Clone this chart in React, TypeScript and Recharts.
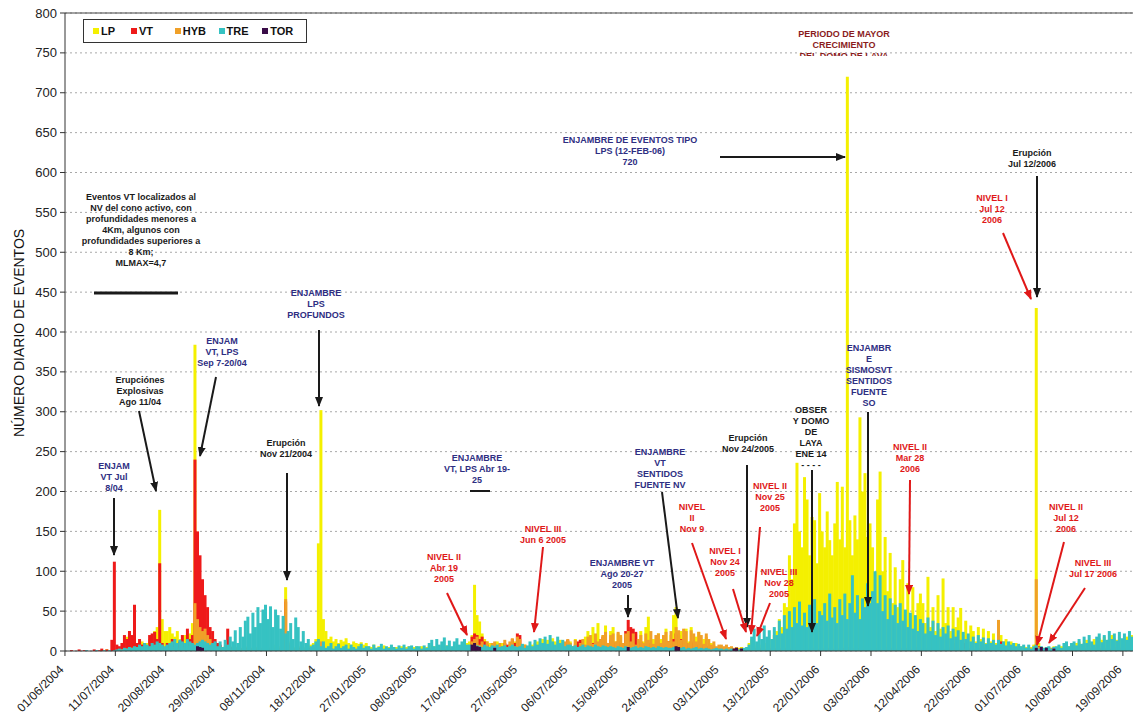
import { BarChart, Bar, XAxis, YAxis, CartesianGrid, ReferenceLine } from 'recharts';

// two-day bins starting 01/06/2004, one row per 40-day tick interval
const lpCounts = [
  0, 0, 0, 0, 0, 0, 0, 0, 0, 0, 0, 0, 0, 0, 1, 0, 2, 0, 0, 3,
  2, 3, 5, 12, 18, 22, 15, 8, 6, 10, 12, 8, 10, 15, 20, 25, 30, 177, 40, 25,
  25, 30, 22, 18, 25, 15, 12, 20, 18, 22, 35, 384, 60, 45, 35, 25, 20, 15, 12, 10,
  8, 6, 5, 6, 4, 5, 6, 4, 5, 3, 4, 5, 6, 4, 3, 5, 4, 3, 4, 5,
  5, 4, 6, 8, 5, 6, 10, 80, 12, 6, 5, 4, 5, 6, 5, 4, 6, 8, 10, 15,
  135, 302, 40, 25, 15, 18, 12, 15, 10, 14, 12, 16, 10, 8, 12, 10, 9, 11, 8, 10,
  6, 5, 8, 4, 6, 5, 7, 4, 5, 6, 4, 5, 3, 6, 4, 5, 6, 4, 5, 6,
  5, 6, 4, 5, 7, 4, 6, 5, 4, 6, 5, 7, 4, 5, 6, 5, 4, 6, 8, 10,
  12, 20, 83, 45, 37, 22, 15, 12, 10, 8, 10, 12, 8, 10, 8, 6, 8, 10, 12, 8,
  6, 5, 8, 6, 5, 8, 10, 12, 10, 15, 12, 14, 10, 16, 12, 10, 14, 12, 10, 12,
  12, 5, 15, 8, 14, 6, 18, 25, 10, 30, 12, 35, 14, 20, 32, 10, 25, 30, 12, 22,
  18, 8, 20, 12, 6, 15, 22, 8, 25, 12, 30, 43, 10, 15, 6, 22, 15, 8, 28, 12,
  20, 45, 55, 15, 25, 8, 28, 12, 30, 10, 18, 24, 8, 15, 18, 5, 10, 8, 4, 5,
  5, 4, 3, 4, 3, 2, 3, 4, 5, 3, 4, 10, 15, 8, 6, 5, 8, 6, 10, 8,
  15, 20, 25, 40, 30, 60, 55, 120, 90, 160, 236, 150, 130, 218, 190, 120, 168, 164, 110, 198,
  150, 130, 175, 139, 120, 160, 212, 140, 206, 130, 720, 164, 120, 170, 140, 293, 200, 223, 143, 160,
  130, 80, 190, 225, 100, 143, 75, 123, 60, 105, 55, 90, 114, 50, 85, 45, 80, 40, 60, 72,
  60, 35, 93, 30, 55, 25, 70, 28, 91, 35, 55, 25, 55, 30, 42, 54, 20, 38, 18, 32,
  25, 12, 30, 15, 28, 10, 25, 12, 22, 10, 30, 20, 12, 15, 8, 12, 6, 10, 5, 6,
  6, 5, 4, 5, 8, 430, 10, 5, 4, 3, 5, 4, 6, 5, 4, 6, 5, 4, 6, 8,
  8, 10, 12, 8, 10, 14, 12, 10, 15, 12, 16, 14, 18, 12, 15, 20, 16, 14, 18, 15,
  16, 18, 14, 20,
];

const vtCounts = [
  0, 0, 1, 0, 0, 2, 0, 1, 0, 0, 0, 2, 0, 1, 3, 0, 2, 0, 14, 112,
  8, 6, 10, 20, 15, 25, 20, 58, 10, 15, 8, 10, 5, 20, 22, 24, 15, 110, 10, 5,
  10, 8, 15, 5, 8, 12, 20, 10, 28, 15, 20, 240, 150, 120, 90, 70, 55, 30, 25, 15,
  10, 8, 5, 4, 28, 5, 3, 4, 2, 3, 2, 3, 4, 2, 3, 2, 3, 2, 4, 3,
  3, 2, 4, 3, 2, 3, 5, 62, 8, 3, 2, 3, 2, 4, 3, 2, 3, 4, 3, 5,
  8, 10, 5, 3, 2, 3, 2, 1, 2, 1, 2, 1, 2, 1, 1, 2, 1, 2, 1, 2,
  1, 2, 1, 1, 2, 1, 1, 1, 2, 1, 1, 2, 1, 1, 1, 2, 1, 1, 1, 2,
  1, 1, 2, 1, 1, 1, 2, 1, 1, 1, 2, 1, 1, 2, 1, 1, 2, 1, 2, 3,
  4, 18, 22, 20, 15, 18, 12, 8, 5, 6, 8, 4, 5, 6, 10, 8, 6, 15, 10, 22,
  20, 8, 5, 4, 3, 4, 3, 2, 3, 2, 3, 4, 2, 3, 2, 4, 3, 5, 8, 14,
  6, 5, 8, 12, 14, 5, 4, 6, 8, 10, 12, 8, 15, 18, 12, 10, 14, 8, 10, 12,
  10, 8, 25, 39, 30, 28, 24, 10, 12, 8, 6, 10, 8, 5, 6, 8, 10, 6, 8, 12,
  12, 15, 22, 20, 15, 12, 10, 8, 12, 10, 8, 6, 8, 5, 6, 4, 5, 3, 4, 3,
  3, 2, 3, 2, 2, 3, 2, 2, 3, 2, 2, 3, 2, 3, 2, 2, 3, 2, 2, 3,
  2, 3, 2, 2, 3, 2, 3, 2, 2, 3, 2, 3, 2, 2, 3, 2, 2, 3, 2, 2,
  3, 2, 2, 3, 2, 2, 3, 2, 2, 3, 2, 2, 3, 2, 2, 3, 2, 2, 3, 2,
  2, 2, 3, 2, 2, 3, 2, 2, 3, 2, 2, 3, 2, 2, 3, 2, 2, 3, 2, 2,
  2, 3, 2, 2, 3, 2, 2, 3, 2, 2, 3, 2, 2, 3, 2, 2, 10, 2, 2, 3,
  2, 2, 3, 2, 2, 3, 2, 2, 3, 2, 2, 12, 2, 2, 3, 2, 2, 3, 2, 2,
  2, 2, 3, 2, 3, 8, 6, 3, 2, 3, 2, 2, 3, 2, 2, 3, 2, 2, 3, 2,
  2, 3, 2, 2, 3, 2, 2, 3, 2, 2, 3, 2, 2, 3, 2, 2, 3, 2, 2, 3,
  2, 3, 2, 2,
];

const hybCounts = [
  0, 0, 0, 0, 0, 0, 0, 0, 0, 0, 0, 0, 0, 0, 0, 0, 0, 0, 0, 0,
  0, 1, 2, 1, 3, 2, 4, 3, 2, 5, 3, 4, 2, 3, 6, 5, 4, 8, 5, 3,
  3, 4, 2, 5, 3, 4, 3, 5, 4, 6, 8, 60, 40, 30, 25, 28, 20, 15, 10, 6,
  4, 3, 5, 4, 3, 2, 3, 4, 2, 3, 2, 3, 2, 4, 3, 2, 3, 2, 3, 4,
  3, 2, 3, 4, 2, 3, 20, 65, 10, 4, 3, 2, 3, 2, 3, 4, 3, 2, 3, 5,
  14, 12, 6, 3, 2, 3, 2, 3, 2, 2, 3, 2, 2, 3, 2, 2, 3, 2, 2, 3,
  2, 1, 2, 1, 3, 1, 2, 1, 2, 3, 1, 2, 1, 2, 1, 3, 2, 1, 2, 1,
  1, 2, 1, 2, 1, 3, 1, 2, 1, 2, 1, 2, 3, 1, 2, 1, 2, 1, 3, 4,
  3, 12, 15, 18, 8, 12, 5, 12, 4, 10, 12, 4, 10, 6, 14, 5, 12, 16, 6, 18,
  15, 6, 8, 3, 5, 2, 5, 2, 5, 2, 6, 3, 4, 6, 2, 6, 8, 4, 12, 15,
  10, 6, 14, 5, 10, 15, 8, 18, 20, 9, 22, 12, 15, 20, 24, 10, 20, 22, 12, 24,
  20, 10, 22, 25, 12, 22, 8, 15, 20, 10, 22, 14, 25, 9, 20, 22, 10, 20, 24, 12,
  25, 12, 30, 26, 14, 28, 25, 10, 26, 22, 12, 24, 20, 9, 22, 15, 8, 12, 6, 8,
  8, 6, 8, 5, 6, 4, 5, 3, 4, 3, 2, 3, 2, 3, 4, 3, 2, 3, 2, 3,
  3, 2, 4, 3, 2, 3, 4, 2, 3, 5, 3, 2, 4, 3, 2, 3, 4, 2, 3, 2,
  2, 3, 2, 4, 3, 2, 3, 2, 4, 3, 5, 3, 2, 3, 4, 2, 3, 2, 3, 2,
  3, 2, 4, 3, 2, 3, 5, 2, 3, 4, 2, 3, 2, 4, 3, 2, 3, 5, 2, 3,
  2, 3, 4, 2, 3, 2, 4, 3, 2, 3, 5, 2, 10, 3, 2, 4, 3, 2, 3, 2,
  3, 2, 4, 3, 2, 5, 3, 2, 4, 3, 39, 6, 3, 2, 4, 3, 2, 3, 2, 3,
  2, 3, 2, 3, 4, 90, 5, 3, 2, 3, 2, 4, 3, 2, 3, 2, 3, 2, 4, 3,
  3, 2, 4, 3, 2, 3, 4, 2, 3, 5, 3, 2, 4, 3, 2, 3, 5, 2, 3, 4,
  3, 2, 4, 3,
];

const treCounts = [
  0, 0, 0, 0, 0, 0, 0, 0, 1, 0, 0, 0, 1, 0, 0, 1, 0, 1, 0, 1,
  2, 3, 2, 4, 3, 5, 4, 6, 5, 8, 6, 10, 8, 6, 10, 8, 12, 10, 8, 6,
  8, 10, 12, 15, 10, 14, 12, 10, 15, 12, 10, 8, 10, 12, 14, 12, 10, 8, 10, 12,
  6, 12, 5, 14, 8, 18, 12, 26, 10, 30, 18, 38, 43, 22, 48, 30, 55, 35, 52, 58,
  40, 56, 30, 52, 45, 28, 44, 22, 25, 35, 15, 42, 30, 12, 25, 10, 15, 6, 8, 12,
  15, 6, 12, 4, 6, 10, 3, 6, 9, 4, 6, 8, 3, 8, 5, 3, 6, 9, 4, 6,
  6, 3, 8, 4, 5, 9, 3, 6, 4, 8, 5, 3, 7, 4, 8, 3, 6, 7, 3, 6,
  6, 3, 7, 4, 10, 14, 6, 15, 8, 12, 17, 7, 13, 6, 12, 16, 8, 12, 15, 8,
  8, 6, 5, 7, 6, 5, 8, 6, 5, 7, 6, 8, 5, 6, 7, 5, 6, 8, 6, 5,
  6, 9, 4, 7, 12, 6, 14, 8, 16, 10, 18, 9, 20, 12, 8, 18, 10, 14, 6, 8,
  8, 6, 7, 5, 6, 8, 5, 7, 6, 5, 8, 6, 5, 7, 6, 5, 6, 5, 4, 6,
  5, 4, 6, 5, 4, 5, 6, 4, 5, 4, 6, 5, 4, 5, 4, 6, 5, 4, 5, 4,
  4, 5, 4, 3, 4, 5, 3, 4, 3, 4, 5, 3, 4, 3, 4, 3, 2, 3, 4, 3,
  3, 2, 3, 2, 3, 2, 3, 2, 3, 4, 5, 8, 18, 28, 12, 30, 15, 32, 18, 26,
  15, 30, 20, 38, 22, 45, 28, 50, 30, 55, 35, 62, 32, 48, 30, 58, 40, 65, 35, 50,
  45, 60, 38, 72, 42, 55, 35, 65, 45, 72, 40, 60, 95, 48, 70, 40, 66, 55, 85, 60,
  75, 100, 60, 95, 50, 70, 40, 66, 45, 58, 35, 60, 38, 52, 30, 48, 28, 45, 25, 40,
  35, 22, 42, 25, 38, 20, 35, 18, 30, 22, 32, 16, 28, 18, 26, 14, 24, 15, 22, 12,
  18, 10, 20, 12, 17, 9, 16, 10, 14, 8, 14, 9, 12, 7, 12, 8, 10, 6, 9, 6,
  8, 4, 8, 3, 6, 8, 3, 6, 4, 5, 6, 3, 5, 6, 8, 4, 10, 12, 6, 10,
  12, 7, 15, 9, 18, 10, 20, 12, 8, 18, 22, 11, 20, 14, 25, 15, 22, 13, 24, 16,
  22, 14, 25, 18,
];

// TOR is almost always zero: [bin, count]
const torSpikes = [
  [52, 6], [53, 5], [54, 4], [161, 8], [162, 10], [163, 6], [164, 5], [170, 4],
  [223, 5], [242, 6], [243, 5], [265, 3], [266, 4], [268, 3],
  [385, 4], [387, 5], [389, 4], [392, 3],
];

const tickLabels = [
  '01/06/2004', '11/07/2004', '20/08/2004', '29/09/2004', '08/11/2004', '18/12/2004',
  '27/01/2005', '08/03/2005', '17/04/2005', '27/05/2005', '06/07/2005', '15/08/2005',
  '24/09/2005', '03/11/2005', '13/12/2005', '22/01/2006', '03/03/2006', '12/04/2006',
  '22/05/2006', '01/07/2006', '10/08/2006', '19/09/2006',
];

const yTicks = [0, 50, 100, 150, 200, 250, 300, 350, 400, 450, 500, 550, 600, 650, 700, 750, 800];

const series = [
  { key: 'LP', color: '#F4F000' },
  { key: 'VT', color: '#EE1A1A' },
  { key: 'HYB', color: '#F0A028' },
  { key: 'TRE', color: '#36C2C2' },
  { key: 'TOR', color: '#3A0C48' },
];

const rows = lpCounts.map((lp, i) => ({
  bin: i,
  LP: lp,
  VT: vtCounts[i],
  HYB: hybCounts[i],
  TRE: treCounts[i],
  TOR: 0,
}));
torSpikes.forEach(([b, v]) => {
  rows[b].TOR = v;
});

const FONT = '"Liberation Sans", Arial, sans-serif';
const NAVY = '#2E2E82';
const RED = '#E01818';
const BLACK = '#1A1A1A';

const notes = [
  { x: 141, y: 197, c: BLACK, t: ['Eventos VT localizados al', 'NV del cono activo, con', 'profundidades menores a', '4Km, algunos con', 'profundidades superiores a', '8 Km;', 'MLMAX=4,7'] },
  { x: 316, y: 293, c: NAVY, t: ['ENJAMBRE', 'LPS', 'PROFUNDOS'] },
  { x: 222, y: 341, c: NAVY, t: ['ENJAM', 'VT, LPS', 'Sep 7-20/04'] },
  { x: 140, y: 380, c: BLACK, t: ['Erupciónes', 'Explosivas', 'Ago 11/04'] },
  { x: 114, y: 466, c: NAVY, t: ['ENJAM', 'VT Jul', '8/04'] },
  { x: 286, y: 443, c: BLACK, t: ['Erupción', 'Nov 21/2004'] },
  { x: 477, y: 458, c: NAVY, t: ['ENJAMBRE', 'VT, LPS Abr 19-', '25'] },
  { x: 444, y: 557, c: RED, t: ['NIVEL II', 'Abr 19', '2005'] },
  { x: 543, y: 529, c: RED, t: ['NIVEL III', 'Jun 6 2005'] },
  { x: 622, y: 563, c: NAVY, t: ['ENJAMBRE  VT', 'Ago 20-27', '2005'] },
  { x: 660, y: 452, c: NAVY, t: ['ENJAMBRE', 'VT', 'SENTIDOS', 'FUENTE NV'] },
  { x: 692, y: 507, c: RED, t: ['NIVEL', 'II', 'Nov 9'] },
  { x: 748, y: 438, c: BLACK, t: ['Erupción', 'Nov 24/2005'] },
  { x: 770, y: 486, c: RED, t: ['NIVEL II', 'Nov 25', '2005'] },
  { x: 725, y: 551, c: RED, t: ['NIVEL I', 'Nov 24', '2005'] },
  { x: 779, y: 572, c: RED, t: ['NIVEL III', 'Nov 28', '2005'] },
  { x: 811, y: 410, c: BLACK, t: ['OBSER', 'Y DOMO', 'DE', 'LAYA', 'ENE 14', '- - - -'] },
  { x: 869, y: 348, c: NAVY, t: ['ENJAMBR', 'E', 'SISMOSVT', 'SENTIDOS', 'FUENTE', 'SO'] },
  { x: 910, y: 447, c: RED, t: ['NIVEL II', 'Mar 28', '2006'] },
  { x: 630, y: 140, c: NAVY, t: ['ENJAMBRE DE EVENTOS TIPO', 'LPS (12-FEB-06)', '720'] },
  { x: 1032, y: 153, c: BLACK, t: ['Erupción', 'Jul 12/2006'] },
  { x: 992, y: 198, c: RED, t: ['NIVEL I', 'Jul 12', '2006'] },
  { x: 1066, y: 507, c: RED, t: ['NIVEL II', 'Jul 12', '2006'] },
  { x: 1093, y: 563, c: RED, t: ['NIVEL III', 'Jul 17 2006'] },
];

const arrows = [
  { c: BLACK, p: [319, 330, 319, 406] },
  { c: BLACK, p: [216, 377, 200, 456] },
  { c: BLACK, p: [139, 411, 156, 491] },
  { c: BLACK, p: [114, 498, 114, 555] },
  { c: BLACK, p: [287, 473, 287, 580] },
  { c: BLACK, p: [628, 595, 628, 617] },
  { c: BLACK, p: [662, 492, 678, 618] },
  { c: BLACK, p: [747, 465, 747, 627] },
  { c: BLACK, p: [812, 470, 812, 632] },
  { c: BLACK, p: [868, 412, 868, 606] },
  { c: BLACK, p: [720, 157, 845, 157] },
  { c: BLACK, p: [1037, 176, 1037, 297] },
  { c: RED, p: [447, 593, 467, 635] },
  { c: RED, p: [543, 547, 534, 632] },
  { c: RED, p: [692, 543, 726, 639] },
  { c: RED, p: [760, 527, 751, 634] },
  { c: RED, p: [733, 589, 746, 632] },
  { c: RED, p: [770, 603, 757, 636] },
  { c: RED, p: [910, 480, 909, 594] },
  { c: RED, p: [1003, 233, 1031, 299] },
  { c: RED, p: [1064, 542, 1037, 645] },
  { c: RED, p: [1085, 588, 1049, 643] },
];

function DateTick(props: any) {
  const { x, y, payload } = props;
  const i = Number(payload.value);
  if (i % 20 !== 0) return null;
  const label = tickLabels[i / 20];
  if (!label) return null;
  return (
    <g>
      <line x1={x - 1.3} y1={y} x2={x - 1.3} y2={y + 5} stroke="#333" strokeWidth={1} />
      <text
        transform={`translate(${x - 4},${y + 17}) rotate(-45)`}
        textAnchor="end"
        dominantBaseline="middle"
        fontSize={12}
        fontFamily={FONT}
        fill="#222"
      >
        {label}
      </text>
    </g>
  );
}

function Overlay() {
  return (
    <svg width={1133} height={722} style={{ position: 'absolute', left: 0, top: 0, pointerEvents: 'none' }}>
      <defs>
        <marker id="headB" markerWidth="5" markerHeight="4" refX="4.5" refY="2" orient="auto">
          <path d="M0,0 L5,2 L0,4 Z" fill={BLACK} />
        </marker>
        <marker id="headR" markerWidth="5" markerHeight="4" refX="4.5" refY="2" orient="auto">
          <path d="M0,0 L5,2 L0,4 Z" fill={RED} />
        </marker>
        <clipPath id="clipTitle">
          <rect x={780} y={20} width={140} height={36} />
        </clipPath>
      </defs>
      <text
        transform="translate(24,333) rotate(-90)"
        textAnchor="middle"
        fontSize={14}
        fontFamily={FONT}
        fill="#111"
      >
        NÚMERO DIARIO DE EVENTOS
      </text>
      <line x1={94} y1={293} x2={178} y2={293} stroke={BLACK} strokeWidth={3} />
      <line x1={470} y1={491} x2={490} y2={491} stroke={BLACK} strokeWidth={2} />
      {arrows.map((a, k) => (
        <line
          key={k}
          x1={a.p[0]}
          y1={a.p[1]}
          x2={a.p[2]}
          y2={a.p[3]}
          stroke={a.c}
          strokeWidth={2}
          markerEnd={a.c === RED ? 'url(#headR)' : 'url(#headB)'}
        />
      ))}
      {notes.map((n, k) => (
        <text key={k} x={n.x} y={n.y + 3} textAnchor="middle" fontSize={9} fontWeight="bold" fontFamily={FONT} fill={n.c}>
          {n.t.map((line, j) => (
            <tspan key={j} x={n.x} dy={j === 0 ? 0 : 11}>
              {line}
            </tspan>
          ))}
        </text>
      ))}
      <text x={844} y={37} textAnchor="middle" fontSize={9} fontWeight="bold" fontFamily={FONT} fill="#8A1C1C" clipPath="url(#clipTitle)">
        <tspan x={844} dy={0}>PERIODO DE MAYOR</tspan>
        <tspan x={844} dy={11}>CRECIMIENTO</tspan>
        <tspan x={844} dy={11}>DEL DOMO DE LAVA</tspan>
      </text>
    </svg>
  );
}

function LegendBox() {
  return (
    <div
      style={{
        position: 'absolute',
        left: 83,
        top: 19,
        width: 222,
        height: 22,
        border: '1px solid #333',
        background: '#fff',
        display: 'flex',
        alignItems: 'center',
        fontFamily: FONT,
        fontSize: 11,
        fontWeight: 'bold',
        color: '#111',
      }}
    >
      {series.map((s) => (
        <div key={s.key} style={{ display: 'flex', alignItems: 'center', marginLeft: s.key === 'LP' ? 9 : 0, width: s.key === 'LP' ? 40 : 46 }}>
          <span style={{ width: 6, height: 6, background: s.color, marginRight: 2, display: 'inline-block' }} />
          {s.key}
        </div>
      ))}
    </div>
  );
}

export default function App() {
  return (
    <div style={{ position: 'absolute', left: 0, top: 0, width: 1133, height: 722, background: '#fff' }}>
      <BarChart
        width={1133}
        height={722}
        data={rows}
        margin={{ top: 13, right: 0, bottom: 0, left: 0 }}
        barCategoryGap={0}
        barGap={0}
      >
        <CartesianGrid vertical={false} stroke="#a8a8a8" strokeDasharray="2 3" xAxisId={0} />
        <XAxis
          xAxisId={0}
          dataKey="bin"
          interval={0}
          height={71}
          tick={<DateTick />}
          tickLine={false}
          tickSize={0}
          tickMargin={0}
          axisLine={{ stroke: '#333' }}
        />
        <XAxis xAxisId={1} dataKey="bin" hide />
        <XAxis xAxisId={2} dataKey="bin" hide />
        <XAxis xAxisId={3} dataKey="bin" hide />
        <XAxis xAxisId={4} dataKey="bin" hide />
        <YAxis
          width={65}
          domain={[0, 800]}
          ticks={yTicks}
          interval={0}
          allowDataOverflow
          tick={{ fontSize: 13, fill: '#222', fontFamily: FONT }}
          tickSize={5}
          tickMargin={3}
          axisLine={{ stroke: '#333' }}
          tickLine={{ stroke: '#333' }}
        />
        <ReferenceLine y={800} xAxisId={0} stroke="#444" strokeWidth={1} />
        {series.map((s, k) => (
          <Bar key={s.key} dataKey={s.key} xAxisId={k} fill={s.color} isAnimationActive={false} />
        ))}
      </BarChart>
      <Overlay />
      <LegendBox />
    </div>
  );
}
